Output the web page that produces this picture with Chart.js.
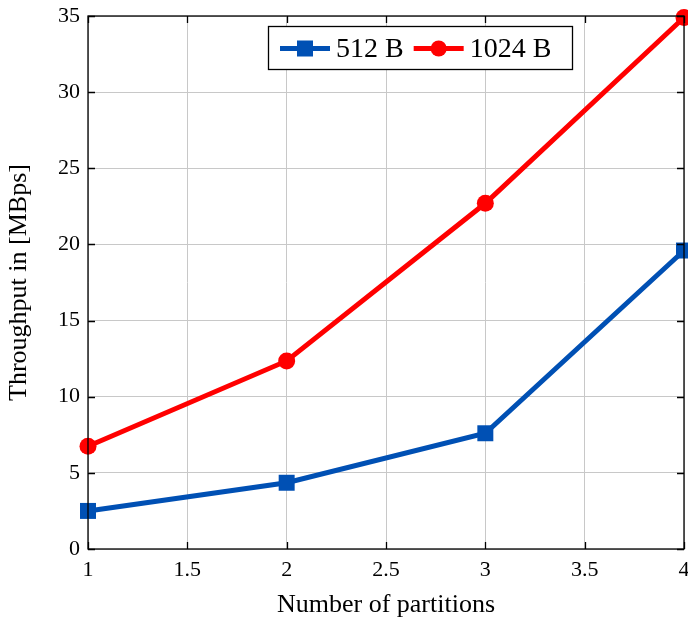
<!DOCTYPE html>
<html>
<head>
<meta charset="utf-8">
<script src="https://cdn.jsdelivr.net/npm/chart.js@4"></script>
<style>
  html, body { margin: 0; padding: 0; background: #fff; }
  #wrap { width: 688px; height: 621px; }
</style>
</head>
<body>
<div id="wrap"><canvas id="tp" width="688" height="621"></canvas></div>
<script>
// data
const partitions = [1, 2, 3, 4];
const tp512 = [2.5, 4.35, 7.6, 19.6];
const tp1024 = [6.75, 12.35, 22.7, 34.9];
const seriesNames = ['512 B', '1024 B'];
const xTicks = [1, 1.5, 2, 2.5, 3, 3.5, 4];
const yTicks = [0, 5, 10, 15, 20, 25, 30, 35];

const BLUE = '#0050b4';
const RED = '#ff0000';
const SERIF = '"Liberation Serif", "DejaVu Serif", serif';

const pts = (ys) => partitions.map((x, i) => ({ x: x, y: ys[i] }));

// box + inward tick marks, pgfplots style
const frameTicks = {
    id: 'frameTicks',
    afterDatasetsDraw(chart) {
        const { ctx, chartArea: a, scales } = chart;
        ctx.save();
        ctx.strokeStyle = '#000';
        ctx.lineWidth = 1.3;
        ctx.strokeRect(a.left, a.top, a.right - a.left, a.bottom - a.top);
        const len = 7;
        xTicks.forEach(v => {
            const px = Math.round(scales.x.getPixelForValue(v)) + 0.5;
            ctx.beginPath();
            ctx.moveTo(px, a.bottom); ctx.lineTo(px, a.bottom - len);
            ctx.moveTo(px, a.top); ctx.lineTo(px, a.top + len);
            ctx.stroke();
        });
        yTicks.forEach(v => {
            const py = Math.round(scales.y.getPixelForValue(v)) + 0.5;
            ctx.beginPath();
            ctx.moveTo(a.left, py); ctx.lineTo(a.left + len, py);
            ctx.moveTo(a.right, py); ctx.lineTo(a.right - len, py);
            ctx.stroke();
        });
        ctx.restore();
    },
    afterDraw(chart) {
        // legend box inside the plot
        const { ctx } = chart;
        const x0 = 268, y0 = 26, w = 304, h = 43;
        ctx.save();
        ctx.fillStyle = '#fff';
        ctx.fillRect(x0, y0, w, h);
        ctx.strokeStyle = '#000';
        ctx.lineWidth = 1.3;
        ctx.strokeRect(x0 + 0.5, y0 + 0.5, w, h);
        ctx.font = '28px ' + SERIF;
        ctx.textBaseline = 'middle';
        const cy = y0 + h / 2 + 1;
        let x = x0 + 12;
        chart.data.datasets.forEach((ds, i) => {
            ctx.strokeStyle = ds.borderColor;
            ctx.fillStyle = ds.borderColor;
            ctx.lineWidth = 5;
            ctx.beginPath();
            ctx.moveTo(x, cy); ctx.lineTo(x + 50, cy);
            ctx.stroke();
            if (ds.pointStyle === 'rect') {
                ctx.fillRect(x + 25 - 8, cy - 8, 16, 16);
            } else {
                ctx.beginPath();
                ctx.arc(x + 25, cy, 8, 0, Math.PI * 2);
                ctx.fill();
            }
            ctx.fillStyle = '#000';
            ctx.fillText(ds.label, x + 56, cy + 1);
            x += 56 + ctx.measureText(ds.label).width + 10;
        });
        ctx.restore();
    }
};

new Chart(document.getElementById('tp'), {
    type: 'line',
    data: {
        datasets: [
            {
                label: seriesNames[0],
                data: pts(tp512),
                borderColor: BLUE,
                backgroundColor: BLUE,
                borderWidth: 5,
                pointStyle: 'rect',
                pointRadius: 11.3,
                pointBorderWidth: 0,
                tension: 0
            },
            {
                label: seriesNames[1],
                data: pts(tp1024),
                borderColor: RED,
                backgroundColor: RED,
                borderWidth: 5,
                pointStyle: 'circle',
                pointRadius: 8.5,
                pointBorderWidth: 0,
                tension: 0
            }
        ]
    },
    options: {
        responsive: false,
        animation: false,
        clip: false,
        layout: { autoPadding: false, padding: { top: 16, right: 4, left: 0, bottom: 0 } },
        plugins: {
            legend: { display: false },
            tooltip: { enabled: false }
        },
        scales: {
            x: {
                type: 'linear',
                min: 1, max: 4,
                afterBuildTicks: (s) => { s.ticks = xTicks.map(v => ({ value: v })); },
                afterFit: (s) => { s.height = 72; s.paddingLeft = 0; s.paddingRight = 0; },
                grid: { color: '#c8c8c8', lineWidth: 1, drawTicks: false },
                border: { display: false },
                ticks: {
                    color: '#000',
                    padding: 8,
                    maxRotation: 0,
                    font: { family: SERIF, size: 22 },
                    callback: (v) => String(v)
                },
                title: {
                    display: true,
                    text: 'Number of partitions',
                    color: '#000',
                    font: { family: SERIF, size: 26 },
                    padding: { top: 4, bottom: 0 }
                }
            },
            y: {
                min: 0, max: 35,
                afterBuildTicks: (s) => { s.ticks = yTicks.map(v => ({ value: v })); },
                afterFit: (s) => { s.width = 88; s.paddingTop = 0; s.paddingBottom = 0; },
                grid: { color: '#c8c8c8', lineWidth: 1, drawTicks: false },
                border: { display: false },
                ticks: {
                    color: '#000',
                    padding: 8,
                    font: { family: SERIF, size: 22 }
                },
                title: {
                    display: true,
                    text: 'Throughput in [MBps]',
                    color: '#000',
                    font: { family: SERIF, size: 26 },
                    padding: { top: 4, bottom: 2 }
                }
            }
        }
    },
    plugins: [frameTicks]
});
</script>
</body>
</html>
